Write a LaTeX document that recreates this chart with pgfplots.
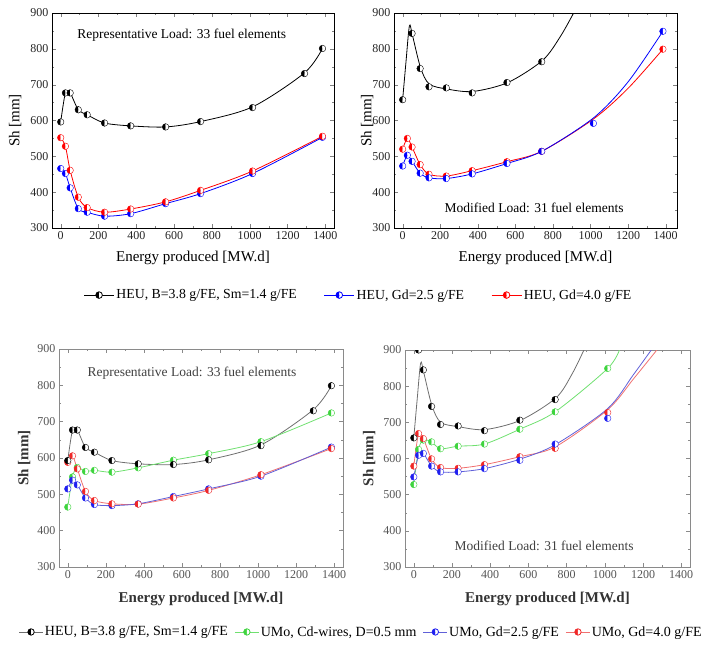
\documentclass[border=0pt]{standalone}
\usepackage{fontspec}
\setmainfont{Liberation Serif}
\usepackage{pgfplots}
\pgfplotsset{compat=1.18}
\usetikzlibrary{plotmarks}

\definecolor{bgray}{HTML}{8A8A8A}
\definecolor{btick}{HTML}{555555}
\definecolor{bblack}{HTML}{6E6E6E}
\definecolor{bgreen}{HTML}{3ED43E}
\definecolor{bgreenl}{HTML}{70E070}
\definecolor{bblue}{HTML}{2020F0}
\definecolor{bbluel}{HTML}{6060D8}
\definecolor{bred}{HTML}{F02828}
\definecolor{bredl}{HTML}{F07070}

\pgfplotsset{
  shpanel/.style={
    scale only axis,
    xmin=-46, xmax=1446, ymin=300, ymax=900,
    xtick={0,200,...,1400}, ytick={300,400,...,900},
    minor x tick num=1, minor y tick num=1,
    tick align=inside,
    major tick length=4pt, minor tick length=2pt,
    axis line style={line width=0.8pt},
    /pgf/number format/assume math mode=true,
    /pgf/number format/1000 sep={},
    tick label style={font=\fontsize{12}{12}\selectfont, text=black!85},
    xlabel={Energy produced [MW.d]},
    ylabel={Sh [mm]},
    clip marker paths=true,
    legend image code/.code={\draw[mark repeat=2,mark phase=2,##1] plot coordinates {(0pt,0pt) (15pt,0pt) (30pt,0pt)};},
  },
  toppanel/.style={
    shpanel,
    label style={font=\fontsize{15}{15}\selectfont},
    ylabel style={at={(axis description cs:#1,0.5)}, anchor=center},
    xlabel style={at={(axis description cs:0.5,-0.14)}, anchor=center},
  },
  botpanel/.style={
    shpanel,
    axis line style={bgray, line width=0.9pt},
    every tick/.style={bgray},
    tick label style={text=btick},
    label style={font=\fontsize{15}{15}\selectfont\bfseries, text=black!80},
    ylabel style={at={(axis description cs:#1,0.5)}, anchor=center},
    xlabel style={at={(axis description cs:0.5,-0.147)}, anchor=center},
  },
  ln/.style={smooth, tension=0.5, line width=0.8pt, no markers, #1},
  mk/.style={only marks, mark=halfcircle*, mark size=3.3pt, mark options={rotate=90, draw=#1, fill=#1}},
}

\begin{document}
\begin{tikzpicture}
\useasboundingbox (0pt,0pt) rectangle (720pt,646pt);

% ---------------- top left: representative load, HEU
\begin{axis}[toppanel=-0.131, at={(52pt,418pt)}, anchor=south west,
  width=282pt, height=215pt,
  legend columns=3,
  legend style={at={(axis description cs:1.087,-0.312)}, anchor=center,
    draw=none, fill=none, font=\fontsize{13.8}{13.8}\selectfont,
    nodes={inner sep=2pt},
    /tikz/every even column/.append style={column sep=25pt}},
]
\addlegendimage{black, line width=0.8pt, mark=halfcircle*, mark size=3.3pt, mark options={rotate=90, fill=black}}
\addlegendentry{HEU, B=3.8 g/FE, Sm=1.4 g/FE}
\addlegendimage{blue, line width=0.8pt, mark=halfcircle*, mark size=3.3pt, mark options={rotate=90, fill=blue}}
\addlegendentry{HEU, Gd=2.5 g/FE}
\addlegendimage{red, line width=0.8pt, mark=halfcircle*, mark size=3.3pt, mark options={rotate=90, fill=red}}
\addlegendentry{HEU, Gd=4.0 g/FE}

\addplot[ln=black, forget plot] coordinates {(0,596)(25,677)(50,677)(93,630)(140,616)(232,593)(370,585)(555,582)(740,597)(1015,638)(1290,733)(1385,801)};
\addplot[ln=red, forget plot] coordinates {(0,552)(25,528)(50,461)(93,386)(140,357)(232,344)(370,353)(555,373)(740,405)(1015,459)(1385,556)};
\addplot[ln=blue, forget plot] coordinates {(0,466)(25,452)(50,412)(93,354)(140,344)(232,333)(370,340)(555,368)(740,396)(1015,452)(1385,553)};
\addplot[mk=black, forget plot] coordinates {(0,596)(25,677)(50,677)(93,630)(140,616)(232,593)(370,585)(555,582)(740,597)(1015,636)(1290,731)(1385,801)};
\addplot[mk=blue, forget plot] coordinates {(0,466)(25,452)(50,412)(93,354)(140,344)(232,333)(370,340)(555,368)(740,396)(1015,452)(1385,553)};
\addplot[mk=red, forget plot] coordinates {(0,552)(25,528)(50,461)(93,386)(140,357)(232,344)(370,353)(555,373)(740,405)(1015,459)(1385,556)};
\node[font=\fontsize{13.5}{13.5}\selectfont] at (axis description cs:0.46,0.898) {Representative Load: 33 fuel elements};
\end{axis}

% ---------------- top right: modified load, HEU
\begin{axis}[toppanel=-0.095, at={(394pt,418pt)}, anchor=south west,
  width=283pt, height=215pt, xmax=1460,
]
\addplot[ln=black] coordinates {(0,658)(18,765)(36,864)(52,838)(95,748)(141,702)(234,688)(373,681)(560,706)(745,768)(840,835)(915,905)};
\addplot[ln=red] coordinates {(0,520)(25,550)(50,526)(93,477)(140,450)(232,445)(370,460)(555,485)(740,514)(1015,604)(1200,690)(1385,799)};
\addplot[ln=blue] coordinates {(0,473)(25,503)(50,486)(93,453)(140,440)(232,438)(370,451)(555,480)(740,514)(1015,607)(1200,708)(1385,849)};
\addplot[mk=black] coordinates {(0,658)(25,902)(50,843)(93,745)(140,694)(232,691)(370,677)(555,706)(740,764)};
\addplot[mk=red] coordinates {(0,520)(25,550)(50,526)(93,477)(140,450)(232,445)(370,460)(555,485)(740,514)(1385,799)};
\addplot[mk=blue] coordinates {(0,473)(25,503)(50,486)(93,453)(140,440)(232,438)(370,451)(555,480)(740,514)(1015,592)(1385,849)};
\node[font=\fontsize{13.5}{13.5}\selectfont] at (axis description cs:0.495,0.093) {Modified Load: 31 fuel elements};
\end{axis}

% ---------------- bottom left: representative load, UMo
\begin{axis}[botpanel=-0.123, at={(59pt,79pt)}, anchor=south west,
  width=284pt, height=218pt,
  legend columns=4,
  legend style={at={(axis description cs:1.063,-0.298)}, anchor=center,
    draw=none, fill=none, font=\fontsize{14}{14}\selectfont,
    nodes={inner sep=1.5pt},
    /tikz/every even column/.append style={column sep=5pt}},
  legend image code/.code={\draw[mark repeat=2,mark phase=2,#1] plot coordinates {(0pt,0pt) (12pt,0pt) (24pt,0pt)};},
]
\addlegendimage{bblack, line width=0.8pt, mark=halfcircle*, mark size=3.2pt, mark options={rotate=90, draw=black, fill=black}}
\addlegendentry{HEU, B=3.8 g/FE, Sm=1.4 g/FE}
\addlegendimage{bgreenl, line width=0.8pt, mark=halfcircle*, mark size=3.2pt, mark options={rotate=90, draw=bgreen, fill=bgreen}}
\addlegendentry{UMo, Cd-wires, D=0.5 mm}
\addlegendimage{bbluel, line width=0.8pt, mark=halfcircle*, mark size=3.2pt, mark options={rotate=90, draw=bblue, fill=bblue}}
\addlegendentry{UMo, Gd=2.5 g/FE}
\addlegendimage{bredl, line width=0.8pt, mark=halfcircle*, mark size=3.2pt, mark options={rotate=90, draw=bred, fill=bred}}
\addlegendentry{UMo, Gd=4.0 g/FE}

\addplot[ln=bblack, forget plot] coordinates {(0,593)(25,677)(50,677)(93,629)(140,616)(232,593)(370,584)(555,582)(740,595)(1015,636)(1290,733)(1385,799)};
\addplot[ln=bgreenl, forget plot] coordinates {(0,465)(25,548)(50,574)(93,563)(140,566)(232,561)(370,573)(555,594)(740,612)(1015,645)(1385,724)};
\addplot[ln=bredl, forget plot] coordinates {(0,588)(25,606)(50,570)(93,508)(140,483)(232,474)(370,473)(555,490)(740,511)(1015,554)(1385,626)};
\addplot[ln=bbluel, forget plot] coordinates {(0,515)(25,539)(50,526)(93,490)(140,472)(232,469)(370,474)(555,494)(740,515)(1015,550)(1385,630)};
\addplot[mk=bgreen, forget plot] coordinates {(0,465)(25,548)(50,574)(93,563)(140,566)(232,561)(370,573)(555,594)(740,612)(1015,645)(1385,724)};
\addplot[mk=bblue, forget plot] coordinates {(0,515)(25,539)(50,526)(93,490)(140,472)(232,469)(370,474)(555,494)(740,515)(1015,550)(1385,630)};
\addplot[mk=bred, forget plot] coordinates {(0,588)(25,606)(50,570)(93,508)(140,483)(232,474)(370,473)(555,490)(740,511)(1015,554)(1385,626)};
\addplot[mk=black, forget plot] coordinates {(0,593)(25,677)(50,677)(93,629)(140,616)(232,593)(370,584)(555,582)(740,595)(1015,634)(1290,730)(1385,799)};
\node[font=\fontsize{13.5}{13.5}\selectfont, text=black!75] at (axis description cs:0.468,0.89) {Representative Load: 33 fuel elements};
\end{axis}

% ---------------- bottom right: modified load, UMo
\begin{axis}[botpanel=-0.126, at={(405pt,79pt)}, anchor=south west,
  width=285pt, height=217pt,
]
\addplot[ln=bblack] coordinates {(0,657)(18,765)(36,864)(52,838)(95,746)(141,700)(234,688)(373,680)(560,706)(745,768)(830,835)(895,905)};
\addplot[ln=bgreenl] coordinates {(0,528)(25,625)(50,651)(93,646)(140,627)(232,634)(370,640)(555,681)(740,729)(1015,849)(1080,905)};
\addplot[ln=bredl] coordinates {(0,579)(25,669)(50,655)(93,599)(140,575)(232,573)(370,583)(555,605)(740,632)(1015,735)(1150,820)(1280,905)};
\addplot[ln=bbluel] coordinates {(0,549)(25,609)(50,614)(93,579)(140,563)(232,563)(370,572)(555,598)(740,638)(1015,738)(1150,832)(1250,905)};
\addplot[mk=bgreen] coordinates {(0,528)(25,625)(50,651)(93,646)(140,627)(232,634)(370,640)(555,681)(740,729)(1015,849)};
\addplot[mk=bred] coordinates {(0,579)(25,669)(50,655)(93,599)(140,575)(232,573)(370,583)(555,605)(740,628)(1015,727)};
\addplot[mk=bblue] coordinates {(0,549)(25,609)(50,614)(93,579)(140,563)(232,563)(370,572)(555,595)(740,640)(1015,711)};
\addplot[mk=black] coordinates {(0,657)(25,900)(50,845)(93,744)(140,694)(232,690)(370,677)(555,706)(740,763)};
\node[font=\fontsize{13.5}{13.5}\selectfont, text=black!75] at (axis description cs:0.488,0.097) {Modified Load: 31 fuel elements};
\end{axis}
\end{tikzpicture}
\end{document}
